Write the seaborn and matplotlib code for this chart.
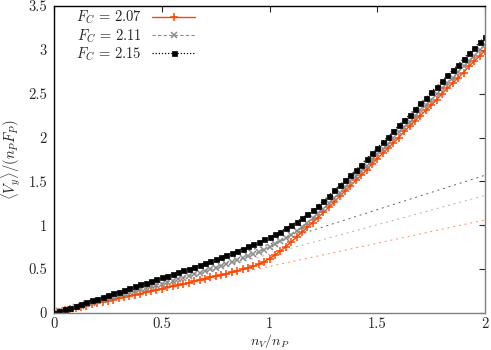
import numpy as np
import pandas as pd
import matplotlib
matplotlib.use('Agg')
import matplotlib.pyplot as plt
import seaborn as sns

# data (x = n_V/n_P on a 0.025 grid)
n_ratio = np.linspace(0, 2, 81)

v_207 = [0.000, 0.014, 0.028, 0.041, 0.055, 0.069, 0.083, 0.096, 0.110, 0.124,
         0.138, 0.151, 0.165, 0.179, 0.193, 0.206, 0.220, 0.234, 0.248, 0.262,
         0.276, 0.290, 0.304, 0.318, 0.332, 0.346, 0.361, 0.375, 0.390, 0.404,
         0.419, 0.434, 0.449, 0.464, 0.480, 0.496, 0.513, 0.532, 0.553, 0.582,
         0.620, 0.660, 0.705, 0.755, 0.810, 0.865, 0.920, 0.975, 1.030, 1.087,
         1.145, 1.205, 1.265, 1.33, 1.39, 1.45, 1.51, 1.57, 1.63, 1.70,
         1.76, 1.82, 1.88, 1.94, 2.00, 2.07, 2.13, 2.19, 2.25, 2.31,
         2.37, 2.43, 2.50, 2.56, 2.62, 2.68, 2.74, 2.81, 2.87, 2.93,
         2.99]

v_211 = [0.000, 0.017, 0.034, 0.050, 0.067, 0.084, 0.101, 0.117, 0.134, 0.151,
         0.168, 0.184, 0.201, 0.218, 0.235, 0.251, 0.268, 0.285, 0.302, 0.318,
         0.335, 0.352, 0.369, 0.386, 0.403, 0.421, 0.439, 0.457, 0.475, 0.496,
         0.517, 0.538, 0.559, 0.580, 0.601, 0.622, 0.645, 0.669, 0.694, 0.721,
         0.750, 0.782, 0.816, 0.852, 0.890, 0.933, 0.979, 1.028, 1.080, 1.134,
         1.190, 1.249, 1.310, 1.37, 1.43, 1.50, 1.56, 1.62, 1.68, 1.75,
         1.81, 1.87, 1.93, 2.00, 2.06, 2.12, 2.18, 2.25, 2.31, 2.37,
         2.43, 2.50, 2.56, 2.62, 2.68, 2.75, 2.81, 2.87, 2.93, 3.00,
         3.06]

v_215 = [0.000, 0.020, 0.041, 0.061, 0.081, 0.101, 0.122, 0.142, 0.162, 0.182,
         0.203, 0.223, 0.243, 0.263, 0.284, 0.304, 0.324, 0.344, 0.365, 0.385,
         0.405, 0.425, 0.446, 0.466, 0.486, 0.506, 0.527, 0.547, 0.567, 0.590,
         0.613, 0.636, 0.660, 0.684, 0.709, 0.734, 0.760, 0.785, 0.811, 0.838,
         0.865, 0.896, 0.928, 0.963, 1.000, 1.039, 1.079, 1.123, 1.170, 1.223,
         1.279, 1.338, 1.398, 1.456, 1.514, 1.572, 1.630, 1.69, 1.76, 1.82,
         1.88, 1.95, 2.01, 2.07, 2.14, 2.20, 2.26, 2.33, 2.39, 2.45,
         2.52, 2.58, 2.64, 2.71, 2.77, 2.83, 2.90, 2.96, 3.02, 3.09,
         3.15]

# thin dashed guide lines (low-drive slope continued)
guide_x = [0, 2]
guide_207 = [0, 1.06]
guide_211 = [0, 1.34]
guide_215 = [0, 1.57]

x_ticks = [0, 0.5, 1, 1.5, 2]
x_labels = ['0', '0.5', '1', '1.5', '2']
y_ticks = [0, 0.5, 1, 1.5, 2, 2.5, 3, 3.5]
y_labels = ['0', '0.5', '1', '1.5', '2', '2.5', '3', '3.5']

sns.set_style('white')
plt.rcParams['font.family'] = ['cmr10', 'DejaVu Serif']
plt.rcParams['mathtext.fontset'] = 'cm'
plt.rcParams['axes.formatter.use_mathtext'] = True
plt.rcParams['font.size'] = 10.5

df = pd.DataFrame({'x': n_ratio, 'a': v_207, 'b': v_211, 'c': v_215})

fig = plt.figure(figsize=(4.91, 3.5), dpi=100)
ax = fig.add_axes([0.110, 0.106, 0.878, 0.877])

orange = '#ff4500'
grey = '#8c8c8c'

# guide lines first so the markers sit on top
sns.lineplot(x=guide_x, y=guide_207, ax=ax, color='#ff8a60', lw=0.7,
             linestyle=(0, (2, 4)))
sns.lineplot(x=guide_x, y=guide_211, ax=ax, color='#b0b0b0', lw=0.7,
             linestyle=(0, (2, 4)))
sns.lineplot(x=guide_x, y=guide_215, ax=ax, color='#606060', lw=0.7,
             linestyle=(0, (2, 4)))

sns.lineplot(data=df, x='x', y='a', ax=ax, color=orange, lw=1.0,
             marker='+', markersize=5.5, mew=1.1, mec=orange, linestyle='-',
             label='$F_C\\,=\\,2.07$')
sns.lineplot(data=df, x='x', y='b', ax=ax, color=grey, lw=0.8,
             marker='x', markersize=3.8, mew=1.1, mec=grey, linestyle=(0, (3, 2)),
             label='$F_C\\,=\\,2.11$')
sns.lineplot(data=df, x='x', y='c', ax=ax, color='black', lw=0.9,
             marker='s', markersize=3.6, mec='black', mew=0.5,
             linestyle=(0, (1, 1.5)), label='$F_C\\,=\\,2.15$')

ax.set_xlim(0, 2)
ax.set_ylim(0, 3.5)
ax.set_xticks(x_ticks)
ax.set_xticklabels(x_labels)
ax.set_yticks(y_ticks)
ax.set_yticklabels(y_labels)
ax.tick_params(direction='in', length=4, width=0.8, top=True, right=True, pad=5)
ax.tick_params(axis='x', pad=3.5)
ax.set_xlabel('$n_V/n_P$', fontsize=10)
ax.xaxis.set_label_coords(0.5, -0.062)
ax.set_ylabel('$\\langle V_y\\rangle/(n_PF_P)$', labelpad=4)

for side in ['left', 'top']:
    ax.spines[side].set_color('black')
for side in ['bottom', 'right']:
    ax.spines[side].set_color('#808080')
for s in ax.spines.values():
    s.set_linewidth(1.0)

leg = ax.legend(loc='upper left', bbox_to_anchor=(0.05, 0.99), frameon=False,
                markerfirst=False, handlelength=3.0, handletextpad=0.7,
                labelspacing=0.05, borderpad=0, borderaxespad=0, numpoints=1)

fig.savefig('out.png', dpi=100)
